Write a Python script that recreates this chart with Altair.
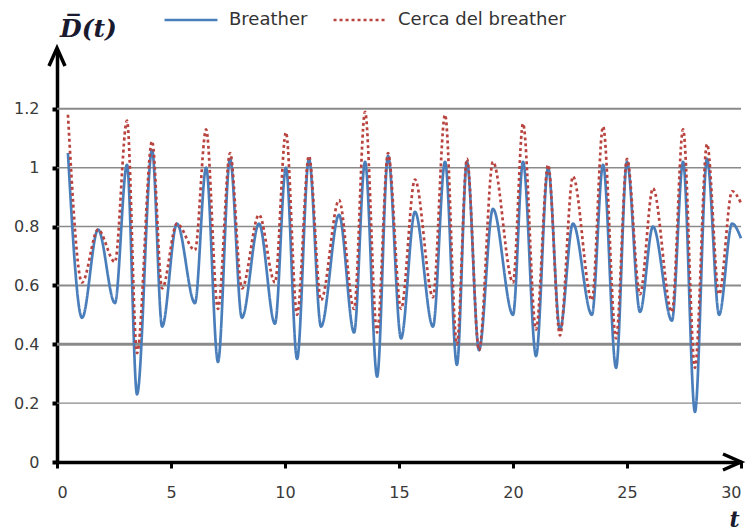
import altair as alt
import pandas as pd

# Extrema of the mean distance D(t) for both runs
t_vals = [0.48, 1.10, 1.80, 2.54, 3.07, 3.51, 4.17, 4.61, 5.26, 6.05, 6.54, 7.06,
          7.59, 8.11, 8.86, 9.56, 10.04, 10.53, 11.05, 11.58, 12.37, 13.03, 13.51,
          14.04, 14.52, 15.09, 15.70, 16.49, 17.02, 17.54, 17.98, 18.51, 19.12,
          20.00, 20.44, 21.01, 21.54, 22.06, 22.63, 23.46, 23.95, 24.52, 25.00,
          25.57, 26.14, 26.97, 27.46, 27.98, 28.51, 29.04, 29.61, 30.00]
breather = [1.05, 0.49, 0.79, 0.54, 1.01, 0.23, 1.06, 0.46, 0.81, 0.54, 1.00, 0.34,
            1.03, 0.49, 0.81, 0.47, 1.00, 0.35, 1.03, 0.46, 0.84, 0.44, 1.02,
            0.29, 1.04, 0.42, 0.85, 0.46, 1.02, 0.33, 1.02, 0.38, 0.86,
            0.50, 1.02, 0.36, 1.00, 0.45, 0.81, 0.50, 1.01, 0.32, 1.02,
            0.51, 0.80, 0.48, 1.02, 0.17, 1.03, 0.50, 0.81, 0.76]
cerca = [1.18, 0.61, 0.79, 0.68, 1.16, 0.37, 1.09, 0.59, 0.81, 0.72, 1.13, 0.52,
         1.05, 0.59, 0.84, 0.61, 1.12, 0.50, 1.04, 0.55, 0.89, 0.52, 1.19,
         0.44, 1.05, 0.52, 0.96, 0.56, 1.18, 0.40, 1.03, 0.38, 1.02,
         0.61, 1.15, 0.45, 1.01, 0.43, 0.97, 0.55, 1.14, 0.42, 1.03,
         0.57, 0.93, 0.51, 1.13, 0.32, 1.08, 0.57, 0.92, 0.88]

series_names = ["Breather", "Cerca del breather"]
series_colors = ["#4A7EBB", "#B8433F"]
series_dash = [[1, 0], [3, 3]]

grid_levels = [0.2, 0.4, 0.6, 0.8, 1.0, 1.2]
grid_widths = [1.2, 3.0, 2.0, 1.4, 1.6, 2.0]

x_ticks = [0, 5, 10, 15, 20, 25, 30]
y_ticks = [0, 0.2, 0.4, 0.6, 0.8, 1.0, 1.2]

df = pd.DataFrame({
    "t": t_vals + t_vals,
    "D": breather + cerca,
    "serie": [series_names[0]] * len(t_vals) + [series_names[1]] * len(t_vals),
    "orden": [0] * len(t_vals) + [1] * len(t_vals),
})
grid_df = pd.DataFrame({"y": grid_levels, "w": grid_widths})

W, H = 684, 412
x_scale = alt.Scale(domain=[0, 30], nice=False, zero=False)
y_scale = alt.Scale(domain=[0, 1.4], nice=False)

grid = alt.Chart(grid_df).mark_rule(color="#8a8a8a").encode(
    x=alt.datum(0, scale=x_scale),
    x2=alt.datum(30),
    y=alt.Y("y:Q", scale=y_scale),
    size=alt.Size("w:Q", scale=None),
)

legend = alt.Legend(orient="none", legendX=106, legendY=-58,
                    direction="horizontal", title=None,
                    symbolType="stroke", symbolSize=2800,
                    symbolStrokeWidth=2.5, labelFontSize=18, labelLimit=400,
                    labelFont="DejaVu Sans", labelColor="#333333",
                    columnPadding=20, labelOffset=10)

lines = alt.Chart(df).mark_line(interpolate="monotone", strokeCap="butt",
                                strokeWidth=2.7).encode(
    x=alt.X("t:Q", scale=x_scale,
            axis=alt.Axis(values=x_ticks, title="t", grid=False,
                          titleX=677, titleY=57, titleAngle=0,
                          titleAlign="center", titleBaseline="middle",
                          titleFont="DejaVu Serif", titleFontStyle="italic",
                          titleFontWeight="bold", titleFontSize=22,
                          titleColor="#1a1a2e")),
    y=alt.Y("D:Q", scale=y_scale,
            axis=alt.Axis(values=y_ticks, format="~g", title="D\u0305(t)", grid=False,
                          titleX=31, titleY=-22, titleAngle=0,
                          titleAlign="center", titleBaseline="middle",
                          titleFont="DejaVu Serif", titleFontStyle="italic",
                          titleFontWeight="bold", titleFontSize=25,
                          titleColor="#1a1a2e")),
    color=alt.Color("serie:N", scale=alt.Scale(domain=series_names, range=series_colors),
                    legend=legend),
    strokeDash=alt.StrokeDash("serie:N", scale=alt.Scale(domain=series_names, range=series_dash),
                              legend=legend),
    order="orden:Q",
)

# Arrow heads at the ends of both axes
arrow_df = pd.DataFrame({"t": [30, 0], "D": [0, 1.4],
                         "forma": ["M-1.8,-0.8L0,0L-1.8,0.8", "M-0.8,1.6L0,-0.2L0.8,1.6"]})
arrows = alt.Chart(arrow_df).mark_point(filled=False, stroke="black", strokeWidth=3.5,
                                        size=400, opacity=1, strokeJoin="miter").encode(
    x=alt.X("t:Q", scale=x_scale),
    y=alt.Y("D:Q", scale=y_scale),
    shape=alt.Shape("forma:N", scale=None),
)

chart = alt.layer(grid, lines, arrows).properties(
    width=W, height=H,
    autosize=alt.AutoSizeParams(type="none"),
    padding={"left": 57, "top": 50, "right": 15, "bottom": 70},
    background="white",
).configure_view(stroke=None).configure_axis(
    domainColor="black", domainWidth=3.5,
    tickColor="black", labelColor="#3a3a3a", labelFont="DejaVu Sans", labelFontSize=16,
).configure_axisX(
    tickSize=6, tickWidth=3, labelPadding=16,
).configure_axisY(
    tickSize=5, tickWidth=4, labelPadding=13,
)

chart.save("out.html", embed_options={"renderer": "svg", "actions": False})
